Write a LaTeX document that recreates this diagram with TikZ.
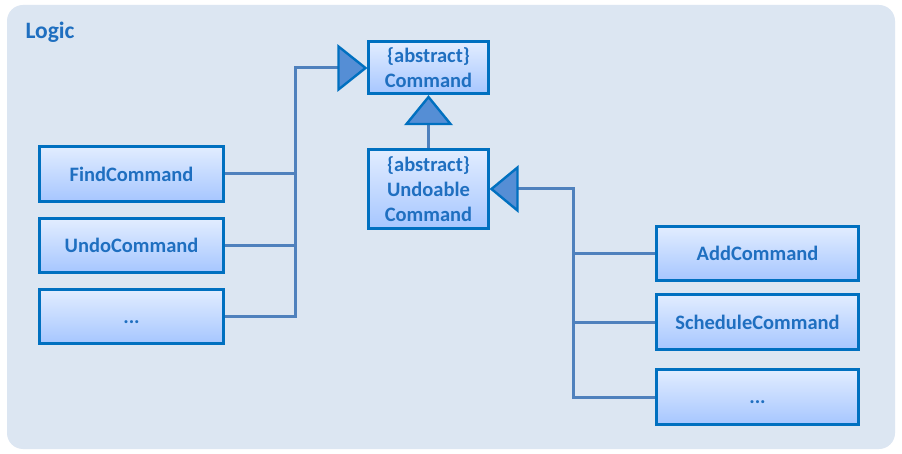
\documentclass[tikz,border=0pt]{standalone}
\usepackage{fontspec}
\setmainfont{Carlito}
\usetikzlibrary{calc}
\definecolor{bgc}{HTML}{DCE6F2}
\definecolor{edgec}{HTML}{0070C0}
\definecolor{txtc}{HTML}{1F6FC0}
\definecolor{lnc}{HTML}{4F81BD}
\definecolor{tric}{HTML}{558ED5}
\definecolor{gtop}{HTML}{E2EDFF}
\definecolor{gbot}{HTML}{A6C6FF}
\begin{document}
\begin{tikzpicture}[x=1pt,y=-1pt,
  cls/.style={draw=edgec, line width=3pt, top color=gtop, bottom color=gbot,
    text=txtc, font=\bfseries\fontsize{20.5}{25}\selectfont, align=center,
    inner sep=0pt},
  conn/.style={draw=lnc, line width=3pt},
  trishape/.style={draw=edgec, line width=2.4pt, fill=tric, line join=miter}]
\useasboundingbox (0,0) rectangle (902,454);
\fill[white] (0,0) rectangle (902,454);
\fill[bgc, rounded corners=16pt] (7,5) rectangle (895,449);
\node[anchor=west, text=txtc, font=\bfseries\fontsize{23.5}{27}\selectfont] (title) at (22,32) {Logic};

% boxes
\node[cls, minimum width=120pt, minimum height=52pt] (cmd) at (428.5,68) {\{abstract\}\\Command};
\node[cls, minimum width=120pt, minimum height=79pt] (undo) at (428.5,189) {\{abstract\}\\Undoable\\Command};
\node[cls, minimum width=184pt, minimum height=55pt] (find) at (131.5,174) {FindCommand};
\node[cls, minimum width=184pt, minimum height=54pt] (undocmd) at (131.5,245.5) {UndoCommand};
\node[cls, minimum width=184pt, minimum height=54pt] (dotsL) at (131.5,316.5) {\vphantom{C}...};
\node[cls, minimum width=202pt, minimum height=54pt] (add) at (757.5,253.5) {AddCommand};
\node[cls, minimum width=202pt, minimum height=55pt] (sched) at (757.5,322) {ScheduleCommand};
\node[cls, minimum width=202pt, minimum height=55pt] (dotsR) at (757.5,397) {\vphantom{C}...};

% junction coordinates
\coordinate (cmdtip) at ($(cmd.west)+(-1.5,0)$);
\coordinate (cmdbase) at ($(cmdtip)+(-27,0)$);
\coordinate (jL) at (cmdbase -| 295,0);
\coordinate (uptip) at ($(cmd.south)+(0,1.5)$);
\coordinate (upbase) at ($(uptip)+(0,27)$);
\coordinate (undotip) at ($(undo.east)+(1.5,0)$);
\coordinate (undobase) at ($(undotip)+(26,0)$);
\coordinate (jR) at (undobase -| 573,0);

% connectors
\draw[conn] (cmdbase) -- (jL) |- (dotsL.east);
\draw[conn] (find.east) -- (find.east -| jL);
\draw[conn] (undocmd.east) -- (undocmd.east -| jL);
\draw[conn] (upbase) -- (undo.north);
\draw[conn] (undobase) -- (jR) |- (dotsR.west);
\draw[conn] (add.west) -- (add.west -| jR);
\draw[conn] (sched.west) -- (sched.west -| jR);

% generalization triangles
\draw[trishape] (cmdtip) -- ++(-27,-21.5) -- ++(0,43) -- cycle;
\draw[trishape] (uptip) -- ++(-22,27) -- ++(44,0) -- cycle;
\draw[trishape] (undotip) -- ++(26,-21.5) -- ++(0,43) -- cycle;
\end{tikzpicture}
\end{document}
